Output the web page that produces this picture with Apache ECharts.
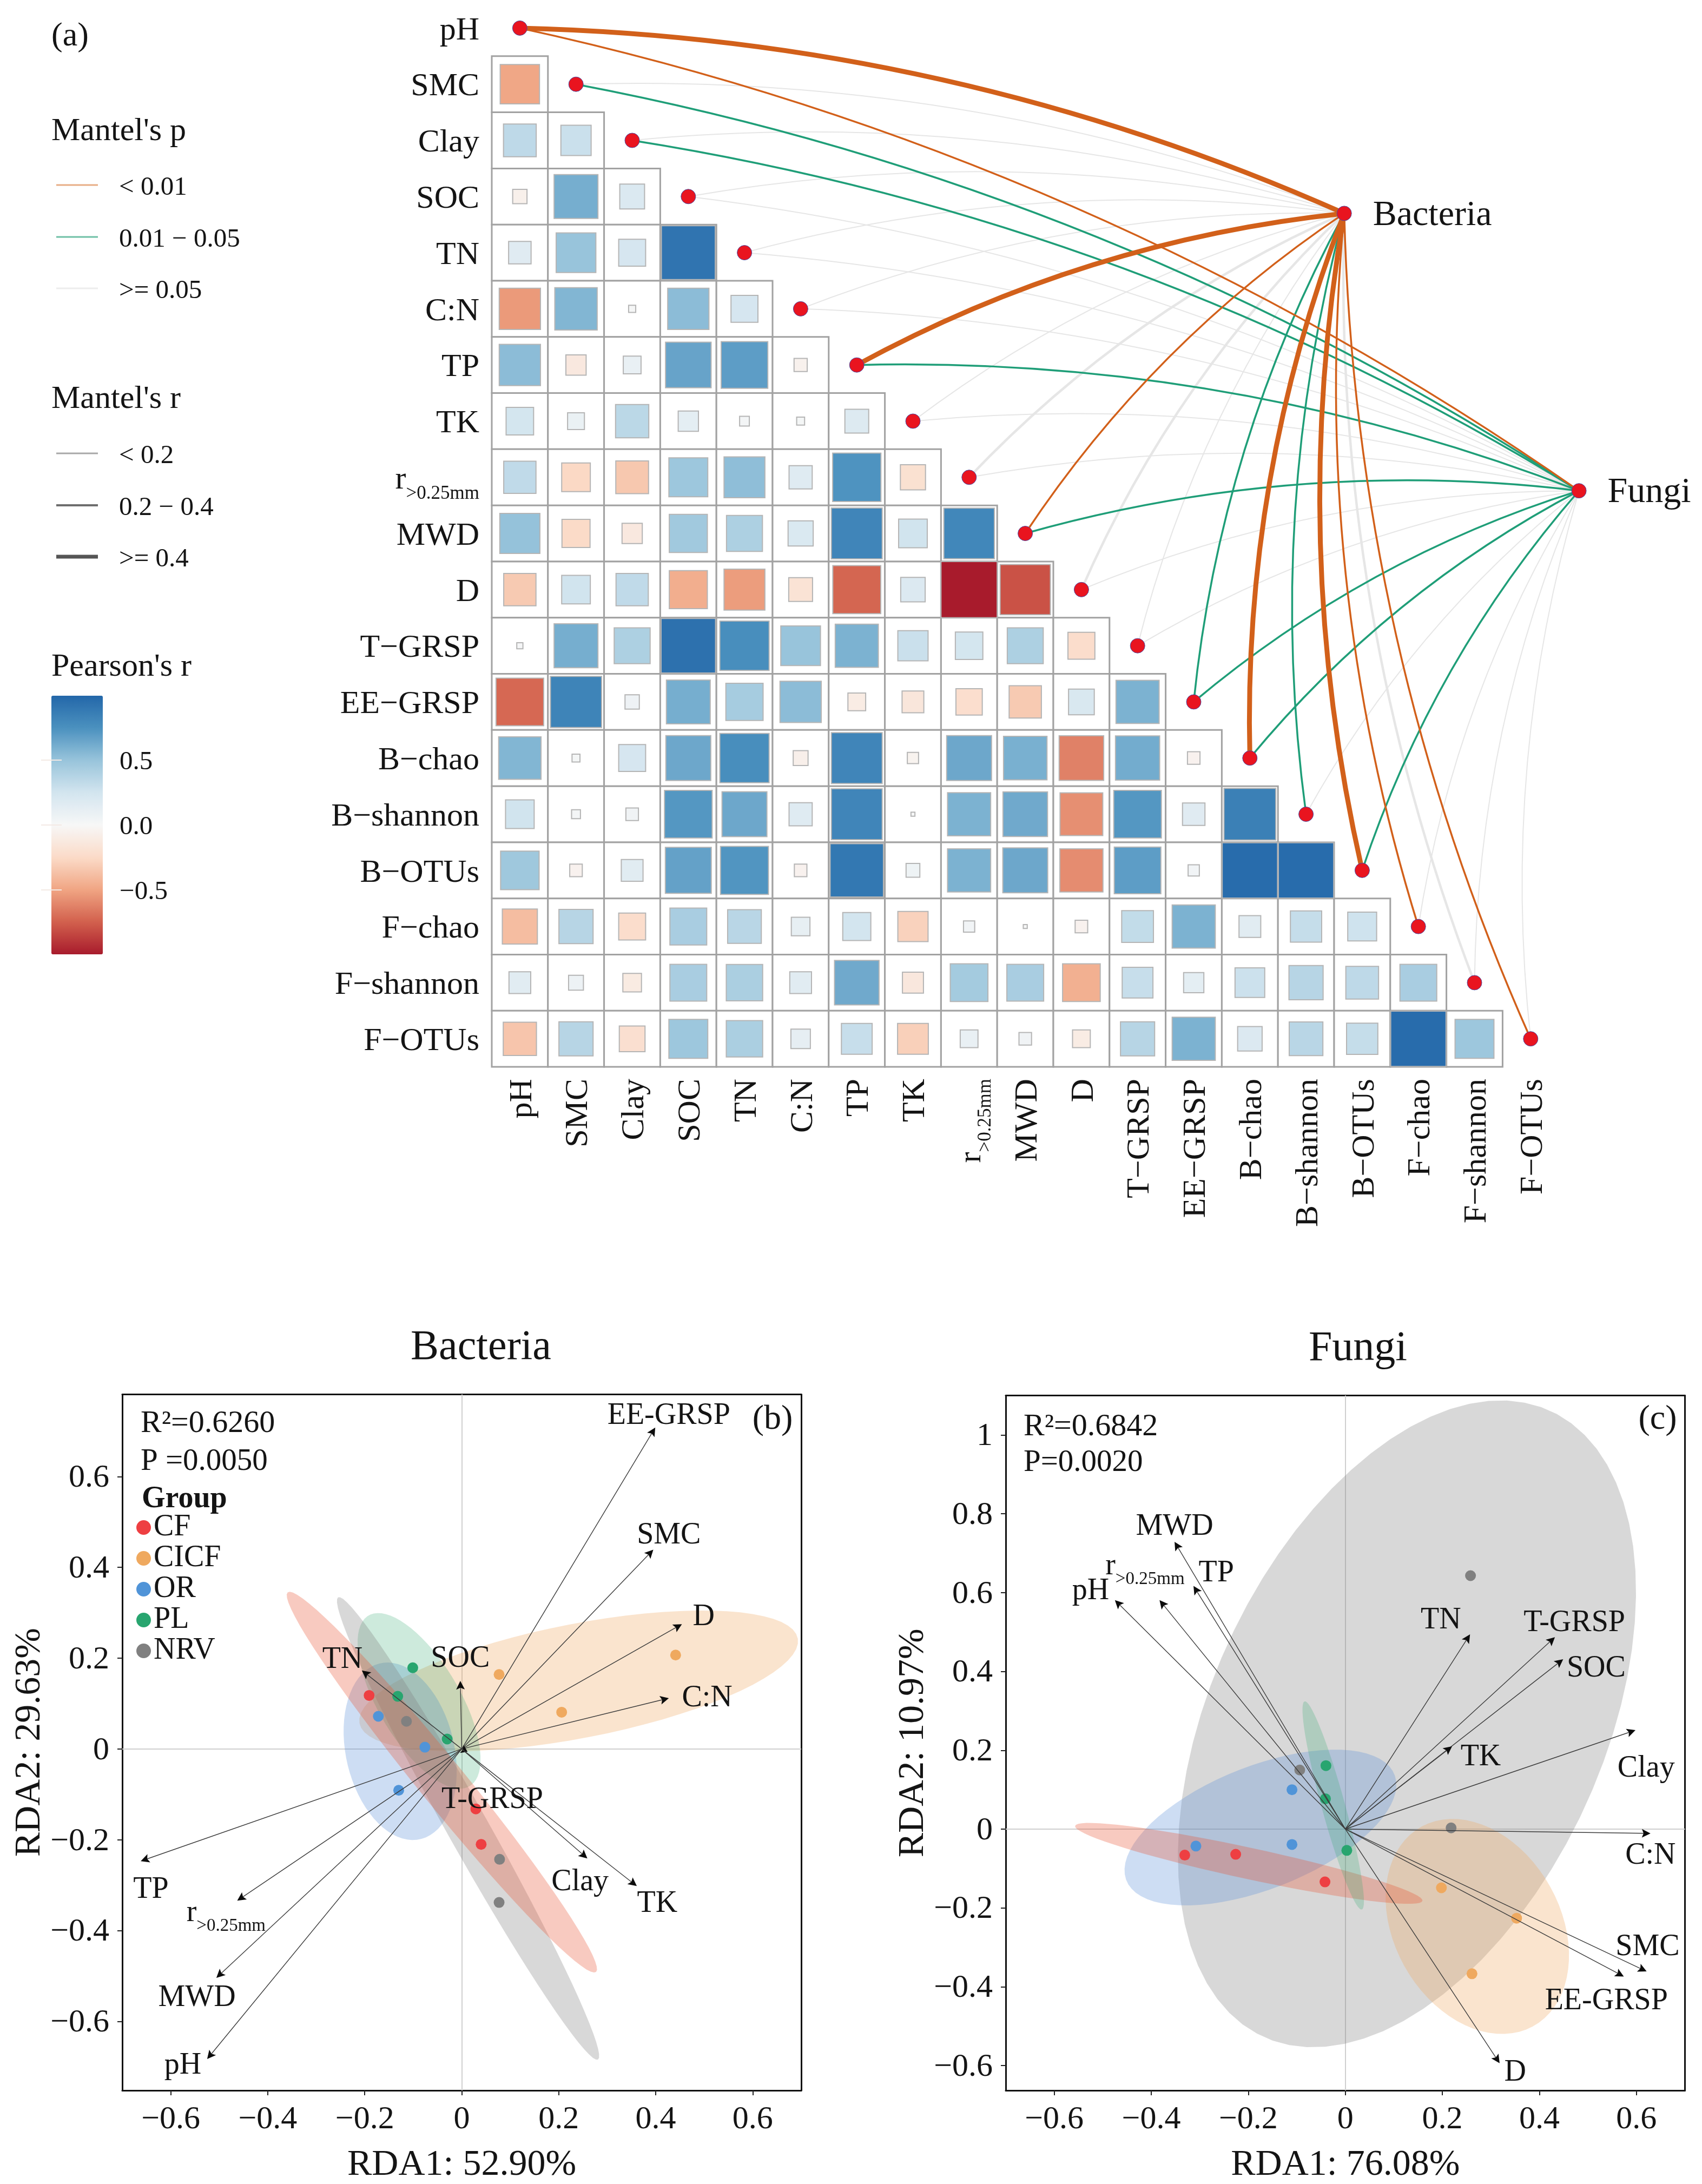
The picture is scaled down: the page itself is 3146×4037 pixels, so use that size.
<!DOCTYPE html>
<html><head><meta charset="utf-8">
<style>html,body{margin:0;padding:0;background:#fff}#c{width:3146px;height:4037px}</style>
<script src="https://cdn.jsdelivr.net/npm/echarts@6/dist/echarts.min.js"></script>
</head><body><div id="c"></div>
<script>
const variables = ['pH','SMC','Clay','SOC','TN','C:N','TP','TK','r>0.25mm','MWD','D','T−GRSP','EE−GRSP','B−chao','B−shannon','B−OTUs','F−chao','F−shannon','F−OTUs'];
// Pearson's r, lower triangle: row i of variables against columns 0..i-1
const pearsonRows = [
 [],
 [-.49],
 [.34,.29],
 [-.065,.61,.195],
 [.16,.50,.23,.92],
 [-.54,.57,.016,.54,.23],
 [.54,-.13,.10,.66,.69,-.055],
 [.24,.09,.35,.13,.03,.02,.18],
 [.33,-.26,-.34,.48,.53,.17,.74,-.20],
 [.51,-.25,-.13,.46,.41,.20,.82,.26,.81],
 [-.33,.26,.33,-.46,-.53,-.18,-.73,.19,-1.0,-.80],
 [.012,.61,.41,.94,.77,.50,.59,.29,.24,.41,-.23],
 [-.72,.83,.065,.61,.44,.54,-.10,-.15,-.22,-.33,.21,.59],
 [.57,.02,.23,.64,.77,-.07,.82,-.04,.64,.60,-.63,.62,-.05],
 [.26,.025,.05,.72,.64,.17,.82,.005,.59,.63,-.58,.72,.16,.85],
 [.47,-.05,.15,.67,.73,-.05,.90,.06,.59,.64,-.59,.69,.04,.97,.97],
 [-.39,.37,-.23,.43,.36,.11,.25,-.29,.04,.005,-.05,.32,.59,.15,.31,.265],
 [.15,.07,-.11,.43,.42,.15,.63,-.14,.45,.43,-.45,.30,.13,.28,.37,.34,.43],
 [-.35,.37,-.21,.48,.42,.12,.30,-.30,.10,.05,-.10,.37,.59,.19,.36,.31,.97,.48]
];
const pearsonPalette = ['#A81B2C','#D2604D','#F0A583','#FBDBC8','#F7F7F7','#D3E5EF','#98C4DB','#4B91BF','#2367A9'];
const pearsonTicks = [-.5,0,.5];
// Mantel links: p class (o <0.01, g 0.01-0.05, n >=0.05) and r class (0 <0.2, 1 0.2-0.4, 2 >=0.4)
const bacteriaP = ['o','n','n','n','n','n','o','n','n','o','n','n','g','o','g','o','o','n','o'];
const bacteriaR = [2,0,0,0,0,0,2,0,1,0,1,0,0,2,0,2,0,1,0];
const fungiP    = ['o','g','g','n','n','n','g','n','n','g','n','n','g','g','n','g','n','n','n'];
const fungiR    = [0,0,0,0,0,0,0,0,0,0,0,0,0,0,0,0,0,0,0];
const taxaNames = ['Bacteria','Fungi'];
const taxaPos = [[14.68,3.30],[18.86,8.24]];

const groups = ['CF','CICF','OR','PL','NRV'];
const groupColors = ['#EE3F42','#EFA95F','#5094D8','#28A56F','#808080'];
const ellipseColors = ['#E8502E','#EFA55D','#5B8FD6','#2DA66E','#7F7F7F'];
// panel (b)
const bPoints = [
 [[-.191,.118],[.029,-.132],[.04,-.21]],
 [[.077,.164],[.441,.207],[.206,.081]],
 [[-.172,.072],[-.076,.004],[-.13,-.091]],
 [[-.101,.179],[-.132,.116],[-.03,.022]],
 [[-.114,.061],[.078,-.243],[.077,-.338]]
];
// ellipses: centre, semi-axis vector A, semi-axis vector B (data units)
const bEllipseOrder = [1,2,3,4,0];
const bEllipseCentre = [[-.041,-.073],[.241,.150],[-.127,-.005],[-.088,.106],[.013,-.175]];
const bEllipseA = [[.318,-.418],[.452,.093],[.044,-.193],[.107,-.186],[.268,-.509]];
const bEllipseB = [[.035,.034],[.020,-.124],[.108,.031],[.068,.053],[.036,.024]];
const bEnvNames = ['EE-GRSP','SMC','D','C:N','SOC','TN','T-GRSP','Clay','TK','TP','r>0.25mm','MWD','pH'];
const bEnvEnd = [[.399,.708],[.395,.439],[.454,.275],[.427,.112],[-.003,.150],[-.206,.173],[.012,-.006],[.259,-.241],[.361,-.302],[-.662,-.247],[-.463,-.334],[-.506,-.504],[-.525,-.683]];
const bEnvLabel = [[.427,.733],[.427,.470],[.499,.290],[.506,.112],[-.003,.199],[-.246,.196],[.063,-.113],[.244,-.294],[.403,-.341],[-.641,-.310],[-.486,-.361],[-.546,-.549],[-.575,-.698]];
const bXRange = [-.7,.7], bYRange = [-.752,.781];
const bXTicks = [-.6,-.4,-.2,0,.2,.4,.6], bYTicks = [-.6,-.4,-.2,0,.2,.4,.6];
// panel (c)
const cPoints = [
 [[-.331,-.066],[-.226,-.064],[-.042,-.134]],
 [[.198,-.149],[.353,-.226],[.261,-.367]],
 [[-.308,-.043],[-.110,.100],[-.110,-.039]],
 [[-.040,.161],[-.041,.077],[.003,-.054]],
 [[-.094,.150],[.218,.003],[.258,.643]]
];
const cEllipseOrder = [4,1,2,0,3];
const cEllipseCentre = [[-.199,-.087],[.272,-.247],[-.175,.004],[-.025,.06],[.127,.267]];
const cEllipseA = [[.358,-.095],[.127,-.244],[.277,.132],[.059,-.264],[.309,.786]];
const cEllipseB = [[-.006,-.039],[.140,.122],[.042,-.147],[.023,.009],[.357,-.236]];
const cEnvNames = ['MWD','TP','r>0.25mm','pH','TN','T-GRSP','SOC','TK','Clay','C:N','SMC','EE-GRSP','D'];
const cEnvEnd = [[-.352,.729],[-.313,.617],[-.383,.581],[-.475,.581],[.257,.494],[.432,.487],[.449,.431],[.220,.210],[.598,.251],[.629,-.011],[.621,-.361],[.574,-.374],[.318,-.594]];
const cEnvLabel = [[-.352,.767],[-.266,.649],[-.413,.667],[-.525,.603],[.197,.530],[.472,.523],[.517,.407],[.279,.182],[.62,.153],[.629,-.068],[.623,-.300],[.538,-.437],[.35,-.618]];
const cXRange = [-.7,.7], cYRange = [-.663,1.10];
const cXTicks = [-.6,-.4,-.2,0,.2,.4,.6], cYTicks = [-.6,-.4,-.2,0,.2,.4,.6,.8,1];

const SERIF = '"Liberation Serif","Times New Roman",serif';
const INK = '#141414';
const subLabel = name => name === 'r>0.25mm' ? '{r|r}{s|>0.25mm}' : name;
const richFor = (big, small) => ({
  r:{fontSize:big,fontFamily:SERIF,color:INK},
  s:{fontSize:small,fontFamily:SERIF,color:INK,verticalAlign:'bottom',padding:[Math.round(big*0.85),0,0,0]}
});
const fmtTick = v => Math.abs(v)<1e-9 ? '0' : (Math.abs(v-1)<1e-9 ? '1' : v.toFixed(1).replace('-','−'));

const pColor = {o:'#D2601A',g:'#1F9E78',n:'#E6E6E6'};
const rWidth = {o:[3.5,5,9],g:[3.5,5,9],n:[2,4.5,9]};

function linkItems(){
  const items=[];
  [[bacteriaP,bacteriaR,0],[fungiP,fungiR,1]].forEach(([P,R,t])=>{
    P.forEach((p,i)=>items.push({p,coords:[[i,i],taxaPos[t]],
      lineStyle:{color:pColor[p],width:rWidth[p][R[i]],curveness:.1,opacity:1}}));
  });
  const rank={n:0,g:1,o:2};
  return items.sort((a,b)=>rank[a.p]-rank[b.p]);
}
const cellData=[];
pearsonRows.forEach((row,i)=>row.forEach((r,j)=>cellData.push([j,i,r])));

function cellRender(params,api){
  const c=api.coord([api.value(0),api.value(1)]);
  const s=api.size([1,1]);
  const side=Math.sqrt(Math.abs(api.value(2)));
  const w=s[0]*side,h=s[1]*side;
  return {type:'group',children:[
    {type:'rect',shape:{x:c[0]-s[0]/2,y:c[1]-s[1]/2,width:s[0],height:s[1]},style:{fill:'#fff',stroke:'#A2A2A2',lineWidth:3}},
    {type:'rect',z2:1,shape:{x:c[0]-w/2,y:c[1]-h/2,width:w,height:h},style:{fill:api.visual('color'),stroke:'#B5B5B5',lineWidth:2}}
  ]};
}
function ellipseSeries(order,centre,A,B,xi,yi){
  return {type:'custom',xAxisIndex:xi,yAxisIndex:yi,silent:true,
    data:order.map(k=>[centre[k][0],centre[k][1],A[k][0],A[k][1],B[k][0],B[k][1],k]),
    renderItem(params,api){
      const v=[0,1,2,3,4,5,6].map(d=>api.value(d));
      const pts=[];
      for(let a=0;a<72;a++){
        const t=a/72*2*Math.PI,ct=Math.cos(t),st=Math.sin(t);
        pts.push(api.coord([v[0]+v[2]*ct+v[4]*st,v[1]+v[3]*ct+v[5]*st]));
      }
      return {type:'polygon',shape:{points:pts},style:{fill:ellipseColors[v[6]],opacity:v[6]===3?.24:.3}};
    }};
}
function axesLines(xr,yr,xi,yi){
  return {type:'lines',coordinateSystem:'cartesian2d',xAxisIndex:xi,yAxisIndex:yi,silent:true,z:1,
    lineStyle:{color:'#CFCFCF',width:2,opacity:1},symbol:'none',
    data:[{coords:[[xr[0],0],[xr[1],0]]},{coords:[[0,yr[0]],[0,yr[1]]]}]};
}
function arrowSeries(end,xi,yi){
  return {type:'custom',xAxisIndex:xi,yAxisIndex:yi,silent:true,z:4,
    data:end.map(e=>[e[0],e[1]]),
    renderItem(params,api){
      const o=api.coord([0,0]),t=api.coord([api.value(0),api.value(1)]);
      const dx=t[0]-o[0],dy=t[1]-o[1],l=Math.hypot(dx,dy)||1,ux=dx/l,uy=dy/l;
      const len=Math.min(16,l),hw=8,bx=t[0]-ux*len,by=t[1]-uy*len,nx=t[0]-ux*len*.8,ny=t[1]-uy*len*.8;
      return {type:'group',children:[
        {type:'line',shape:{x1:o[0],y1:o[1],x2:nx,y2:ny},style:{stroke:'#3C3C3C',lineWidth:1.4}},
        {type:'polygon',shape:{points:[t,[bx-uy*hw,by+ux*hw],[nx,ny],[bx+uy*hw,by-ux*hw]]},style:{fill:'#0C0C0C'}}
      ]};
    }};
}
function labelSeries(names,pos,xi,yi){
  return {type:'custom',xAxisIndex:xi,yAxisIndex:yi,silent:true,z:5,
    data:pos.map((p,i)=>[p[0],p[1],i]),
    renderItem(params,api){
      const c=api.coord([api.value(0),api.value(1)]);
      return {type:'text',x:c[0],y:c[1],style:{text:subLabel(names[api.value(2)]),font:'56px '+SERIF,fill:INK,
        align:'center',verticalAlign:'middle',rich:richFor(56,33)}};
    }};
}
function pointSeries(points,xi,yi){
  return groups.map((g,k)=>({type:'scatter',name:g,xAxisIndex:xi,yAxisIndex:yi,z:3,symbol:'circle',symbolSize:20,
    itemStyle:{color:groupColors[k],opacity:1},data:points[k],silent:true}));
}
function frameAxis(pos,grid,range,ticks,name,gap){
  return {type:'value',gridIndex:grid,position:pos,min:range[0],max:range[1],name,nameLocation:'middle',nameGap:gap,
    nameTextStyle:{fontFamily:SERIF,fontSize:68,color:INK},
    axisLine:{show:true,onZero:false,lineStyle:{color:'#111',width:3}},
    axisTick:{show:true,customValues:ticks,length:9,lineStyle:{color:'#222',width:2}},
    axisLabel:{show:true,customValues:ticks,formatter:fmtTick,margin:24,fontFamily:SERIF,fontSize:60,color:INK,showMinLabel:true,showMaxLabel:true},
    splitLine:{show:false}};
}
const hidden=(grid,extra)=>Object.assign({type:'value',gridIndex:grid,show:false,splitLine:{show:false}},extra);
const catLabel=(extra)=>Object.assign({interval:0,fontFamily:SERIF,fontSize:60,color:INK,formatter:subLabel,rich:richFor(60,35),padding:[10,0,0,0]},extra);

const txt=(text,x,y,size,opt)=>({type:'text',x,y,silent:true,z:20,style:Object.assign({text,font:size+'px '+SERIF,fill:INK,textAlign:'left',textVerticalAlign:'middle'},opt||{})});
const leg=(x1,x2,y,color,width)=>({type:'line',silent:true,z:20,shape:{x1,y1:y,x2,y2:y},style:{stroke:color,lineWidth:width}});

// y tick labels sit a little below the tick in the reference: a padded rich token moves them down
const lowered=(axis,size,pad)=>{
  const f=axis.axisLabel.formatter;
  axis.axisLabel.formatter=v=>'{t|'+f(v)+'}';
  axis.axisLabel.rich={t:{fontFamily:SERIF,fontSize:size,color:INK,padding:[pad,0,0,0]}};
  return axis;
};
const yLeft = lowered(frameAxis('left',3,bYRange,bYTicks,'RDA2: 29.63%',100),60,6);
const yLeftC = lowered(frameAxis('left',4,cYRange,cYTicks,'RDA2: 10.97%',100),60,6);
const colourTicks = lowered({axisLabel:{formatter:v=>v.toFixed(1).replace('-','−')}},49,10);

const option={
  animation:false,backgroundColor:'#FFFFFF',
  textStyle:{fontFamily:SERIF},
  grid:[
    {left:909,top:-2,width:1972.2,height:1974.1},
    {left:909,top:-2,width:1972.2,height:1974.1},
    {left:95,top:1286,width:95,height:478},
    {left:226,top:2577.5,width:1255,height:1288.5,show:false},
    {left:1859,top:2579.6,width:1255.5,height:1288.4,show:false}
  ],
  xAxis:[
    {type:'category',gridIndex:0,data:variables,axisLine:{show:false},axisTick:{show:false},splitLine:{show:false},
      axisLabel:catLabel({rotate:90,margin:22})},
    hidden(1,{min:-.5,max:18.5}),
    hidden(2,{min:0,max:1}),
    frameAxis('bottom',3,bXRange,bXTicks,'RDA1: 52.90%',104),
    frameAxis('bottom',4,cXRange,cXTicks,'RDA1: 76.08%',104),
    Object.assign(frameAxis('top',3,bXRange,[],'',0),{axisTick:{show:false},axisLabel:{show:false}}),
    Object.assign(frameAxis('top',4,cXRange,[],'',0),{axisTick:{show:false},axisLabel:{show:false}})
  ],
  yAxis:[
    {type:'category',gridIndex:0,inverse:true,data:variables,axisLine:{show:false},axisTick:{show:false},splitLine:{show:false},
      axisLabel:catLabel({margin:23})},
    hidden(1,{min:-.5,max:18.5,inverse:true}),
    {type:'value',gridIndex:2,position:'right',min:-.9975,max:.994,z:10,
      axisLine:{show:false},splitLine:{show:false},
      axisTick:{show:true,inside:true,length:19,customValues:pearsonTicks,lineStyle:{color:'#F3E9E4',width:2}},
      axisLabel:Object.assign({customValues:pearsonTicks,margin:31},colourTicks.axisLabel)},
    {type:'value',gridIndex:2,position:'left',min:-.9975,max:.994,z:10,
      axisLine:{show:false},splitLine:{show:false},axisLabel:{show:false},
      axisTick:{show:true,inside:true,length:19,customValues:pearsonTicks,lineStyle:{color:'#F3E9E4',width:2}}},
    yLeft,
    yLeftC,
    Object.assign(frameAxis('right',3,bYRange,[],'',0),{axisTick:{show:false},axisLabel:{show:false}}),
    Object.assign(frameAxis('right',4,cYRange,[],'',0),{axisTick:{show:false},axisLabel:{show:false}})
  ],
  visualMap:{type:'continuous',min:-1,max:1,seriesIndex:0,dimension:2,left:95,top:1286,padding:0,itemWidth:95,itemHeight:478,
    calculable:false,hoverLink:false,showLabel:false,text:null,inRange:{color:pearsonPalette}},
  legend:{data:groups,left:247,top:2790,orient:'vertical',icon:'circle',itemWidth:27,itemHeight:27,itemGap:0,selectedMode:false,
    textStyle:{fontFamily:SERIF,fontSize:56,color:INK,lineHeight:57}},
  series:[
    {type:'custom',xAxisIndex:0,yAxisIndex:0,data:cellData,renderItem:cellRender,silent:true,encode:{x:0,y:1}},
    {type:'lines',coordinateSystem:'cartesian2d',xAxisIndex:1,yAxisIndex:1,clip:false,silent:true,z:2,
      lineStyle:{curveness:.1,opacity:1},data:linkItems()},
    {type:'scatter',xAxisIndex:1,yAxisIndex:1,clip:false,silent:true,z:3,symbolSize:27,
      itemStyle:{color:'#E9141F',borderColor:'#4A4AA0',borderWidth:1,opacity:1},
      data:variables.map((v,i)=>[i,i])},
    {type:'scatter',xAxisIndex:1,yAxisIndex:1,clip:false,silent:true,z:3,symbolSize:27,
      itemStyle:{color:'#E9141F',borderColor:'#4A4AA0',borderWidth:1,opacity:1},
      label:{show:true,position:'right',distance:39,color:INK,
        formatter:p=>'{t|'+taxaNames[p.dataIndex]+'}',rich:{t:{fontFamily:SERIF,fontSize:66,color:INK,padding:[8,0,0,0]}}},
      data:taxaPos},
    axesLines(bXRange,bYRange,3,4),
    ellipseSeries(bEllipseOrder,bEllipseCentre,bEllipseA,bEllipseB,3,4),
    arrowSeries(bEnvEnd,3,4),
    labelSeries(bEnvNames,bEnvLabel,3,4),
    ...pointSeries(bPoints,3,4),
    axesLines(cXRange,cYRange,4,5),
    ellipseSeries(cEllipseOrder,cEllipseCentre,cEllipseA,cEllipseB,4,5),
    arrowSeries(cEnvEnd,4,5),
    labelSeries(cEnvNames,cEnvLabel,4,5),
    ...pointSeries(cPoints,4,5)
  ],
  graphic:[
    txt('(a)',95,68,62),
    txt("Mantel's p",95,243,60),
    leg(104,181,342,'#E8AD85',3),txt('< 0.01',220,347,49),
    leg(104,181,438,'#6FC0A6',3),txt('0.01 − 0.05',220,443,49),
    leg(104,181,533,'#EDEDED',3),txt('>= 0.05',220,538,49),
    txt("Mantel's r",95,738,60),
    leg(104,181,838,'#A8A8A8',3),txt('< 0.2',220,843,49),
    leg(104,181,934,'#6E6E6E',4),txt('0.2 − 0.4',220,939,49),
    leg(104,181,1029,'#555555',7),txt('>= 0.4',220,1034,49),
    txt("Pearson's r",95,1233,60),
    txt('Bacteria',889,2492,78,{textAlign:'center'}),
    txt('Fungi',2510,2494,78,{textAlign:'center'}),
    txt('R²=0.6260',260,2632,58),
    txt('P =0.0050',260,2702,57),
    txt('(b)',1428,2624,64,{textAlign:'center'}),
    txt('Group',262,2772,56,{font:'bold 56px '+SERIF}),
    txt('R²=0.6842',1892,2638,58),
    txt('P=0.0020',1892,2704,57),
    txt('(c)',3064,2624,64,{textAlign:'center'})
  ]
};
const chart=echarts.init(document.getElementById('c'),null,{renderer:'canvas',width:3146,height:4037});
chart.setOption(option);
</script></body></html>
